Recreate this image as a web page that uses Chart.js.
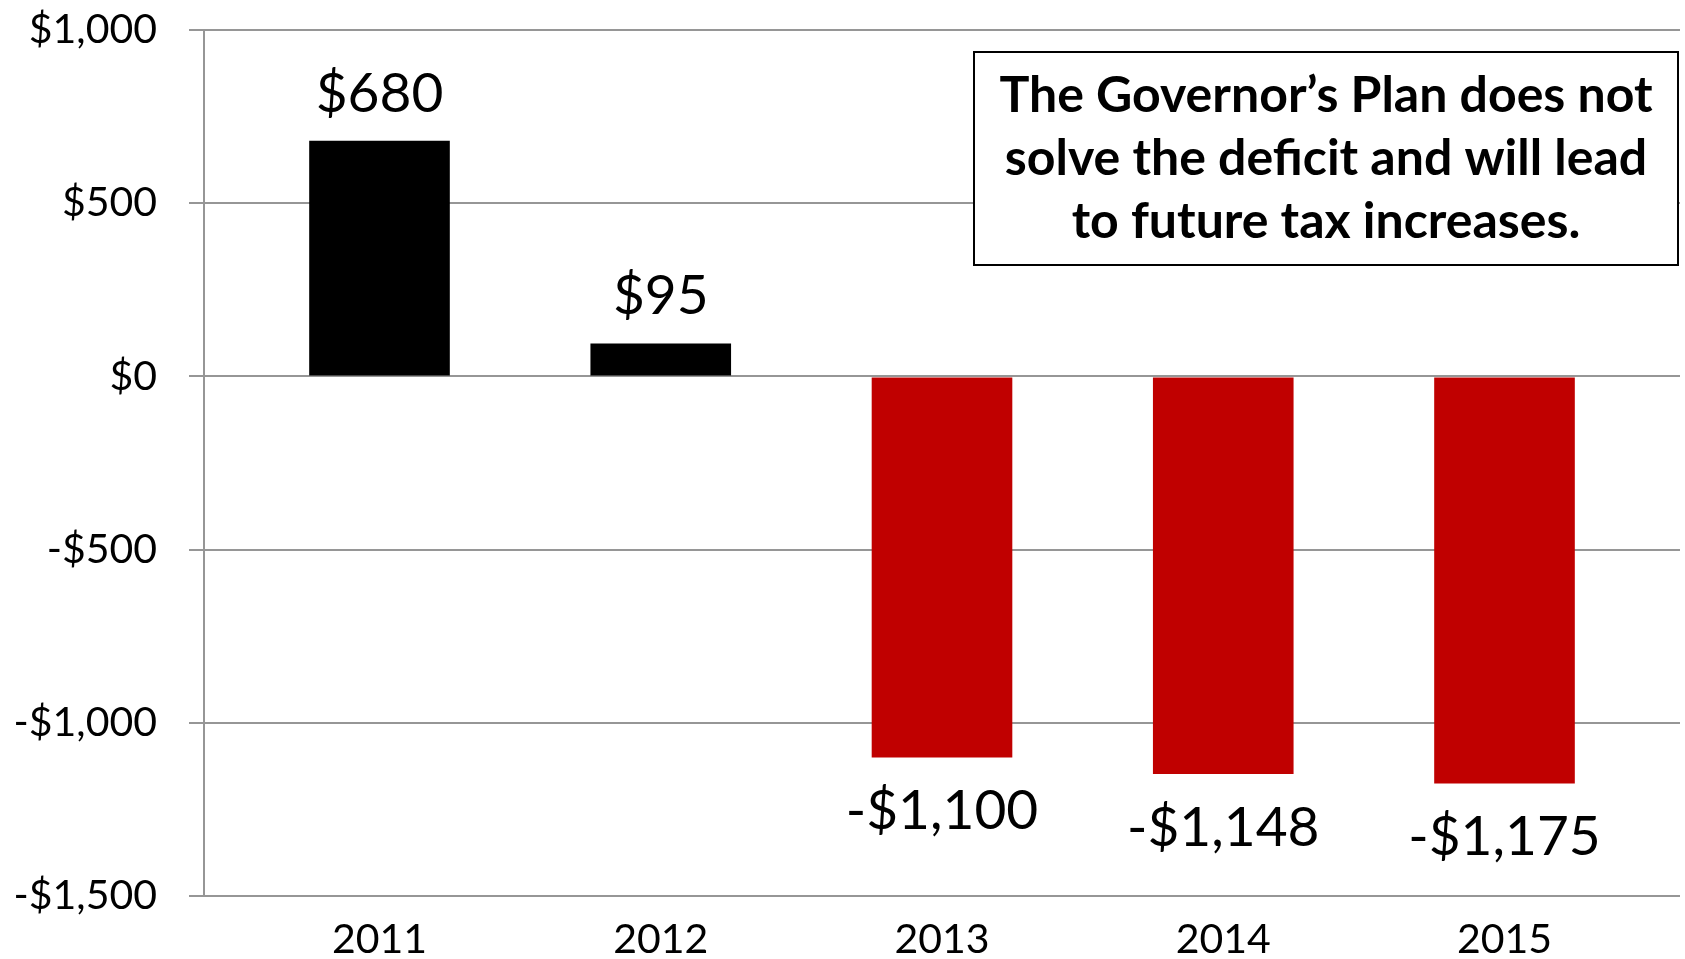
<!DOCTYPE html>
<html lang="en">
<head>
  <meta charset="UTF-8">
  <title>Governor's Plan Deficit</title>
  <script src="https://cdn.jsdelivr.net/npm/chart.js"></script>
  <style>
    html, body {
      margin: 0;
      padding: 0;
      background: #ffffff;
    }

    .chart-container {
      width: 1685px;
      height: 959px;
      position: relative;
    }
  </style>
</head>
<body>
  <div class="chart-container">
    <canvas id="deficitChart"></canvas>
  </div>

  <script>
    // Datos
    const categories = ['2011', '2012', '2013', '2014', '2015'];
    const years = [2011, 2012, 2013, 2014, 2015];
    const values = [680, 95, -1100, -1148, -1175];
    const yTicks = [-1500, -1000, -500, 0, 500, 1000];
    const noteLines = [
      'The Governor\u2019s Plan does not',
      'solve the deficit and will lead',
      'to future tax increases.'
    ];

    const FONT = 'Lato, "Noto Sans", sans-serif';
    const GRID = '#969696';

    function money(v) {
      const s = '$' + Math.abs(v).toLocaleString('en-US');
      return v < 0 ? '-' + s : s;
    }

    // Etiquetas de valor sobre / bajo cada barra
    const valueLabels = {
      id: 'valueLabels',
      afterDatasetsDraw(chart) {
        const ctx = chart.ctx;
        const meta = chart.getDatasetMeta(0);
        ctx.save();
        ctx.font = '55px ' + FONT;
        ctx.fillStyle = '#000000';
        ctx.textAlign = 'center';
        ctx.textBaseline = 'alphabetic';
        meta.data.forEach((bar, i) => {
          const v = values[i];
          const y = v >= 0 ? bar.y - 29 : bar.y + 72;
          ctx.fillText(money(v), bar.x, y);
        });
        ctx.restore();
      }
    };

    // Recuadro con el mensaje
    const noteBox = {
      id: 'noteBox',
      afterDraw(chart) {
        const ctx = chart.ctx;
        const left = 974, top = 52, right = 1678, bottom = 265;
        ctx.save();
        ctx.fillStyle = '#ffffff';
        ctx.fillRect(left, top, right - left, bottom - top);
        ctx.strokeStyle = '#000000';
        ctx.lineWidth = 2;
        ctx.strokeRect(left, top, right - left, bottom - top);
        ctx.fillStyle = '#000000';
        ctx.font = 'bold 50px ' + FONT;
        ctx.textAlign = 'center';
        ctx.textBaseline = 'alphabetic';
        const cx = (left + right) / 2;
        noteLines.forEach((line, i) => {
          ctx.fillText(line, cx, 112 + i * 63);
        });
        ctx.restore();
      }
    };

    const ctx = document.getElementById('deficitChart').getContext('2d');
    new Chart(ctx, {
      type: 'bar',
      data: {
        datasets: [{
          label: 'Deficit',
          data: years.map((yr, i) => ({ x: yr, y: values[i] })),
          backgroundColor: values.map(v => v >= 0 ? '#000000' : '#C00000'),
          borderWidth: 0,
          barPercentage: 0.5,
          categoryPercentage: 1.0
        }]
      },
      options: {
        responsive: true,
        maintainAspectRatio: false,
        animation: false,
        layout: {
          padding: { top: 30, right: 5, bottom: 0, left: 0 }
        },
        plugins: {
          legend: { display: false },
          tooltip: { enabled: false }
        },
        scales: {
          x: {
            type: 'linear',
            offset: false,
            min: 2010.376,
            max: 2015.624,
            grid: { display: false, drawTicks: false, offset: false },
            border: { display: false },
            ticks: {
              stepSize: 1,
              includeBounds: false,
              padding: 19,
              color: '#000000',
              font: { family: FONT, size: 41 },
              callback: (v) => {
                const idx = years.indexOf(v);
                return idx >= 0 ? categories[idx] : '';
              }
            },
            afterFit: (scale) => { scale.height = 63; }
          },
          y: {
            min: yTicks[0],
            max: yTicks[yTicks.length - 1],
            grid: {
              color: GRID,
              lineWidth: 2,
              tickLength: 15,
              drawTicks: true
            },
            border: { display: true, color: GRID, width: 2 },
            afterBuildTicks: (scale) => {
              scale.ticks = yTicks.map(v => ({ value: v }));
            },
            ticks: {
              padding: 32,
              color: '#000000',
              font: { family: FONT, size: 41 },
              callback: (v) => money(v)
            },
            afterFit: (scale) => {
              scale.width = 204;
              scale.paddingTop = 0;
              scale.paddingBottom = 0;
            }
          }
        }
      },
      plugins: [valueLabels, noteBox]
    });
  </script>
</body>
</html>
